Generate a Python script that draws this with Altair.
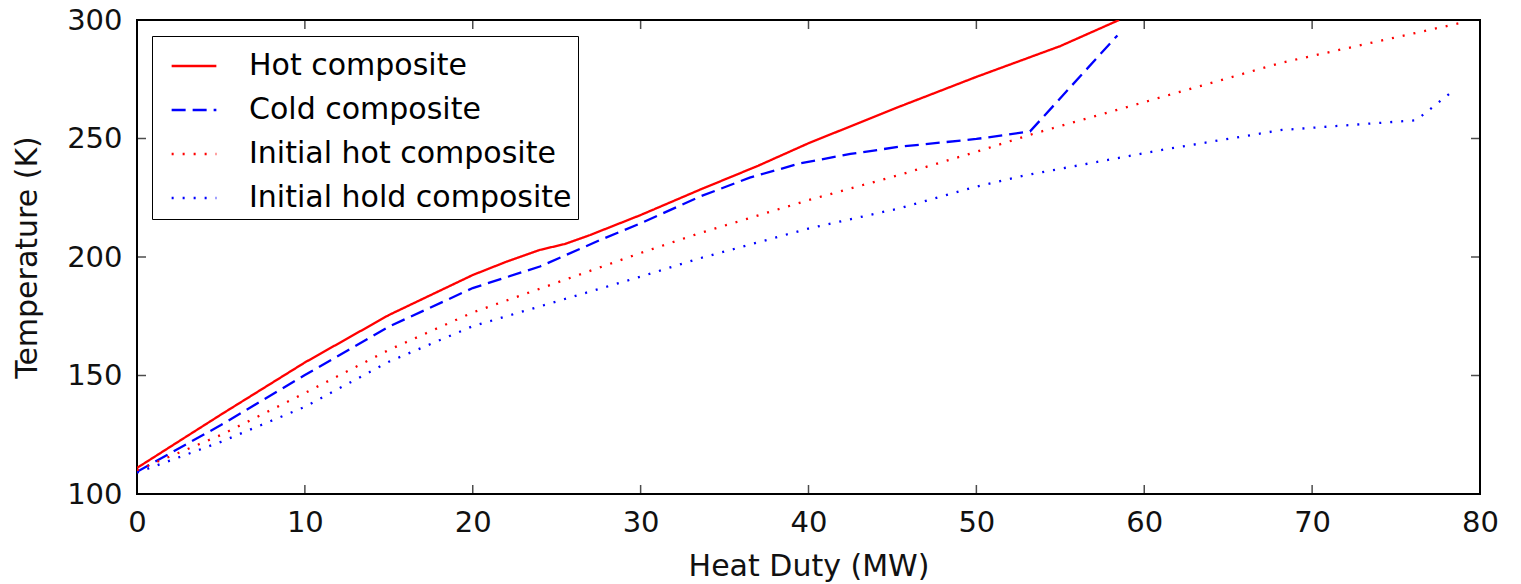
import altair as alt
import pandas as pd

series = ["Hot composite", "Cold composite", "Initial hot composite", "Initial hold composite"]
colors = ["#ff0000", "#0000ff", "#ff0000", "#0000ff"]
dashes = [[1, 0], [14, 7], [2, 9], [2, 9]]

hot_x = [0, 5, 10, 15, 20, 22, 24, 25.5, 27, 30, 33.5, 37, 40, 45.4, 50, 55, 58.5]
hot_t = [111, 133.5, 155.5, 175.5, 192.4, 198, 203, 205.5, 209.3, 217.7, 228.3, 238.5, 248, 263.4, 276, 289, 300]

cold_x = [0, 5, 10, 15, 20, 24, 27.6, 30, 33.5, 36.5, 39.5, 42.5, 45.4, 50, 53.2, 58.4]
cold_t = [109.4, 129.1, 150.2, 170.6, 186.9, 196, 207.2, 214.2, 225.4, 233.5, 239.5, 243.5, 246.5, 249.8, 253, 293.5]

ihot_x = [0, 5, 10, 15, 20, 30, 33.5, 40, 45.4, 50, 53.4, 61.3, 68.2, 79]
ihot_t = [110, 124.9, 142.6, 160.8, 176.6, 201.7, 210, 224, 234.6, 244.4, 252, 268, 282, 299]

icold_x = [0, 5, 10, 15, 20, 30, 33.5, 40, 45.4, 50, 53, 61.3, 68.2, 76.2, 78.5]
icold_t = [109, 122, 136.8, 155.8, 170.8, 191.7, 199.4, 212, 220.5, 229.7, 234.6, 245.5, 253.6, 257.7, 270.7]

x_ticks = [0, 10, 20, 30, 40, 50, 60, 70, 80]
y_ticks = [100, 150, 200, 250, 300]

rows = []
for name, xs, ts in [(series[0], hot_x, hot_t), (series[1], cold_x, cold_t),
                     (series[2], ihot_x, ihot_t), (series[3], icold_x, icold_t)]:
    for i, (a, b) in enumerate(zip(xs, ts)):
        rows.append({"series": name, "duty": a, "temp": b, "idx": i})
df = pd.DataFrame(rows)

W, H = 1343, 474
FONT = "DejaVu Sans"

xscale = alt.Scale(domain=[0, 80], nice=False, zero=False)
yscale = alt.Scale(domain=[100, 300], nice=False, zero=False)

legend = alt.Legend(
    title=None, orient="none", legendX=15, legendY=16,
    symbolType="stroke", symbolSize=2000, symbolStrokeWidth=2.5, symbolOffset=12,
    labelFontSize=30, labelFont=FONT, labelColor="black", labelOffset=31, labelLimit=600,
    rowPadding=5, padding=6, strokeColor="black", fillColor="white",
    cornerRadius=0,
)

lines = alt.Chart(df).mark_line(strokeWidth=2.3, clip=True).encode(
    x=alt.X("duty:Q", scale=xscale, axis=alt.Axis(values=x_ticks, title="Heat Duty (MW)", format="d",
                                                  labelPadding=14, titlePadding=14, titleFontSize=30)),
    y=alt.Y("temp:Q", scale=yscale, axis=alt.Axis(values=y_ticks, title="Temperature (K)", format="d",
                                                  labelPadding=15, titlePadding=24, titleFontSize=30)),
    color=alt.Color("series:N", scale=alt.Scale(domain=series, range=colors), legend=legend),
    strokeDash=alt.StrokeDash("series:N", scale=alt.Scale(domain=series, range=dashes), legend=legend),
    order="idx:Q",
)

xt = pd.DataFrame({"v": x_ticks})
yt = pd.DataFrame({"v": y_ticks})
tb = alt.Chart(xt).mark_tick(orient="vertical", size=9, thickness=1.5, color="black").encode(
    x=alt.X("v:Q", scale=xscale), y=alt.value(H - 4.5))
tt = alt.Chart(xt).mark_tick(orient="vertical", size=9, thickness=1.5, color="black").encode(
    x=alt.X("v:Q", scale=xscale), y=alt.value(4.5))
tl = alt.Chart(yt).mark_tick(orient="horizontal", size=9, thickness=1.5, color="black").encode(
    y=alt.Y("v:Q", scale=yscale), x=alt.value(4.5))
tr = alt.Chart(yt).mark_tick(orient="horizontal", size=9, thickness=1.5, color="black").encode(
    y=alt.Y("v:Q", scale=yscale), x=alt.value(W - 4.5))

chart = alt.layer(lines, tb, tt, tl, tr).properties(
    width=W, height=H,
    background="white",
    autosize=alt.AutoSizeParams(type="none"),
    padding={"left": 137, "top": 20, "right": 41, "bottom": 90},
).configure_view(
    stroke="black", strokeWidth=2,
).configure_axis(
    ticks=False, domain=False, grid=False, labelFlush=False,
    labelFont=FONT, labelFontSize=29, labelColor="#111111",
    titleFont=FONT, titleColor="#111111", titleFontWeight="normal",
)

chart.save("out.html", embed_options={"renderer": "svg", "actions": False})
